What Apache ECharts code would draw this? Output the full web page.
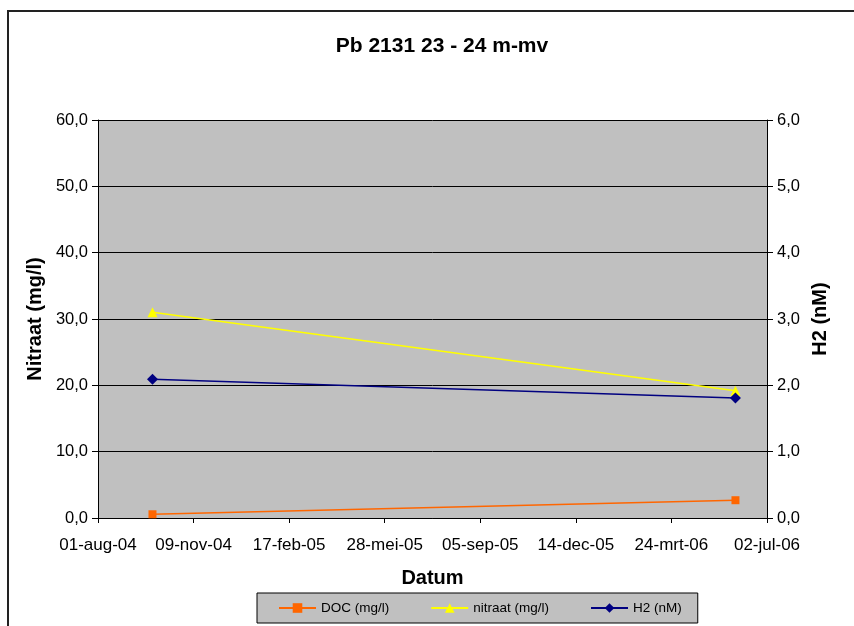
<!DOCTYPE html>
<html><head><meta charset="utf-8">
<script src="https://cdn.jsdelivr.net/npm/echarts@6/dist/echarts.min.js"></script>
<style>html,body{margin:0;padding:0;background:#fff}#c{width:854px;height:626px}</style>
</head><body><div id="c"></div>
<script>
// Axis origin and tick labels (one tick every 100 days)
const axisStart = '2004-08-01';
const tickLabels = ['01-aug-04','09-nov-04','17-feb-05','28-mei-05','05-sep-05','14-dec-05','24-mrt-06','02-jul-06'];
// Sampling dates
const sampleDates = ['2004-09-27', '2006-05-30'];
// Series values
const docValues = [0.56, 2.68];      // DOC (mg/l)
const nitraatValues = [31.0, 19.2];  // nitraat (mg/l)
const h2Values = [2.09, 1.81];       // H2 (nM)

function dayOffset(s) {
  const p = s.split('-').map(Number), q = axisStart.split('-').map(Number);
  return (Date.UTC(p[0], p[1]-1, p[2]) - Date.UTC(q[0], q[1]-1, q[2])) / 86400000;
}
function pairs(vals) { return sampleDates.map((d, i) => [dayOffset(d), vals[i]]); }

const FONT = "'Liberation Sans', Arial, sans-serif";
const chart = echarts.init(document.getElementById('c'), null, {renderer: 'canvas'});
chart.setOption({
  animation: false,
  backgroundColor: '#fff',
  textStyle: {fontFamily: FONT, color: '#000'},
  title: {
    text: 'Pb 2131 23 - 24 m-mv', left: 437, top: 31, textAlign: 'center',
    textStyle: {fontFamily: FONT, fontSize: 21, fontWeight: 'bold', color: '#000'}
  },
  graphic: [{
    type: 'rect', silent: true, z: -10,
    shape: {x: 8, y: 11, width: 900, height: 700},
    style: {fill: null, stroke: '#222', lineWidth: 2}
  }],
  grid: {left: 98, right: 87, top: 120, bottom: 108, show: true, backgroundColor: '#c0c0c0', borderWidth: 0},
  legend: {
    left: 257, top: 593, orient: 'horizontal',
    backgroundColor: '#c0c0c0', borderColor: '#000', borderWidth: 1, borderRadius: 0,
    padding: [8, 16, 8, 21], itemWidth: 37, itemHeight: 12, itemGap: 41,
    textStyle: {fontFamily: FONT, fontSize: 13.5, color: '#000'},
    data: ['DOC (mg/l)', 'nitraat (mg/l)', 'H2 (nM)']
  },
  xAxis: {
    type: 'value', min: 0, max: 700, interval: 100,
    name: 'Datum', nameLocation: 'middle', nameGap: 50,
    nameTextStyle: {fontFamily: FONT, fontSize: 20, fontWeight: 'bold', color: '#000'},
    axisLine: {show: true, lineStyle: {color: '#000', width: 1}},
    axisTick: {show: true, inside: false, length: 5, lineStyle: {color: '#000'}},
    splitLine: {show: false},
    axisLabel: {
      fontFamily: FONT, fontSize: 17, color: '#000', margin: 19,
      formatter: v => tickLabels[Math.round(v / 100)] || ''
    }
  },
  yAxis: [{
    type: 'value', min: 0, max: 60, interval: 10, position: 'left',
    name: 'Nitraat (mg/l)', nameLocation: 'middle', nameGap: 49, nameRotate: 90,
    nameTextStyle: {fontFamily: FONT, fontSize: 20, fontWeight: 'bold', color: '#000'},
    axisLine: {show: true, lineStyle: {color: '#000', width: 1}},
    axisTick: {show: true, inside: false, length: 6, lineStyle: {color: '#000'}},
    splitLine: {show: true, lineStyle: {color: '#000', width: 1}},
    axisLabel: {fontFamily: FONT, fontSize: 16.5, color: '#000', margin: 10, formatter: v => v.toFixed(1).replace('.', ',')}
  }, {
    type: 'value', min: 0, max: 6, interval: 1, position: 'right',
    name: 'H2 (nM)', nameLocation: 'middle', nameGap: 38, nameRotate: 90,
    nameTextStyle: {fontFamily: FONT, fontSize: 20, fontWeight: 'bold', color: '#000'},
    axisLine: {show: true, lineStyle: {color: '#000', width: 1}},
    axisTick: {show: true, inside: false, length: 6, lineStyle: {color: '#000'}},
    splitLine: {show: false},
    axisLabel: {fontFamily: FONT, fontSize: 16.5, color: '#000', margin: 10, formatter: v => v.toFixed(1).replace('.', ',')}
  }],
  series: [{
    name: 'DOC (mg/l)', type: 'line', yAxisIndex: 0, data: pairs(docValues),
    symbol: 'rect', symbolSize: 8, showAllSymbol: true,
    itemStyle: {color: '#ff6600'}, lineStyle: {color: '#ff6600', width: 1.5}
  }, {
    name: 'nitraat (mg/l)', type: 'line', yAxisIndex: 0, data: pairs(nitraatValues),
    symbol: 'triangle', symbolSize: 10,
    itemStyle: {color: '#ffff00'}, lineStyle: {color: '#ffff00', width: 1.5}
  }, {
    name: 'H2 (nM)', type: 'line', yAxisIndex: 1, data: pairs(h2Values),
    symbol: 'diamond', symbolSize: 11,
    itemStyle: {color: '#000080'}, lineStyle: {color: '#000080', width: 1.5}
  }]
});
</script>
</body></html>
